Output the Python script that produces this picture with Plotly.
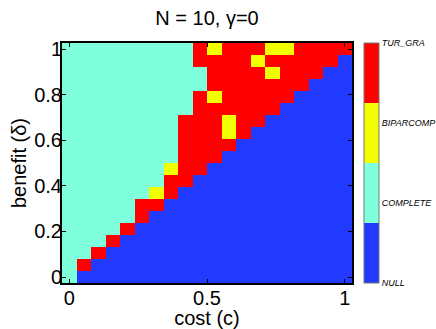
import plotly.graph_objects as go

# ---- data ----
cost = [0.0, 0.0526, 0.1053, 0.1579, 0.2105, 0.2632, 0.3158, 0.3684, 0.4211, 0.4737,
        0.5263, 0.5789, 0.6316, 0.6842, 0.7368, 0.7895, 0.8421, 0.8947, 0.9474, 1.0]
benefit = [0.0, 0.0526, 0.1053, 0.1579, 0.2105, 0.2632, 0.3158, 0.3684, 0.4211, 0.4737,
           0.5263, 0.5789, 0.6316, 0.6842, 0.7368, 0.7895, 0.8421, 0.8947, 0.9474, 1.0]

# regime codes: 1 = NULL, 2 = COMPLETE, 3 = BIPARCOMP, 4 = TUR_GRA
# rows from benefit = 0 (bottom) to benefit = 1 (top)
regime = [
    [2, 1, 1, 1, 1, 1, 1, 1, 1, 1, 1, 1, 1, 1, 1, 1, 1, 1, 1, 1],
    [2, 4, 1, 1, 1, 1, 1, 1, 1, 1, 1, 1, 1, 1, 1, 1, 1, 1, 1, 1],
    [2, 2, 4, 1, 1, 1, 1, 1, 1, 1, 1, 1, 1, 1, 1, 1, 1, 1, 1, 1],
    [2, 2, 2, 4, 1, 1, 1, 1, 1, 1, 1, 1, 1, 1, 1, 1, 1, 1, 1, 1],
    [2, 2, 2, 2, 4, 1, 1, 1, 1, 1, 1, 1, 1, 1, 1, 1, 1, 1, 1, 1],
    [2, 2, 2, 2, 2, 4, 1, 1, 1, 1, 1, 1, 1, 1, 1, 1, 1, 1, 1, 1],
    [2, 2, 2, 2, 2, 4, 4, 1, 1, 1, 1, 1, 1, 1, 1, 1, 1, 1, 1, 1],
    [2, 2, 2, 2, 2, 2, 3, 4, 1, 1, 1, 1, 1, 1, 1, 1, 1, 1, 1, 1],
    [2, 2, 2, 2, 2, 2, 2, 4, 4, 1, 1, 1, 1, 1, 1, 1, 1, 1, 1, 1],
    [2, 2, 2, 2, 2, 2, 2, 3, 4, 4, 1, 1, 1, 1, 1, 1, 1, 1, 1, 1],
    [2, 2, 2, 2, 2, 2, 2, 2, 4, 4, 4, 1, 1, 1, 1, 1, 1, 1, 1, 1],
    [2, 2, 2, 2, 2, 2, 2, 2, 4, 4, 4, 4, 1, 1, 1, 1, 1, 1, 1, 1],
    [2, 2, 2, 2, 2, 2, 2, 2, 4, 4, 4, 3, 4, 1, 1, 1, 1, 1, 1, 1],
    [2, 2, 2, 2, 2, 2, 2, 2, 4, 4, 4, 3, 4, 4, 1, 1, 1, 1, 1, 1],
    [2, 2, 2, 2, 2, 2, 2, 2, 2, 4, 4, 4, 4, 4, 4, 1, 1, 1, 1, 1],
    [2, 2, 2, 2, 2, 2, 2, 2, 2, 4, 3, 4, 4, 4, 4, 4, 1, 1, 1, 1],
    [2, 2, 2, 2, 2, 2, 2, 2, 2, 2, 4, 4, 4, 4, 4, 4, 4, 1, 1, 1],
    [2, 2, 2, 2, 2, 2, 2, 2, 2, 2, 4, 4, 4, 4, 3, 4, 4, 4, 1, 1],
    [2, 2, 2, 2, 2, 2, 2, 2, 2, 4, 4, 4, 4, 3, 4, 4, 4, 4, 4, 1],
    [2, 2, 2, 2, 2, 2, 2, 2, 2, 4, 3, 4, 4, 4, 3, 3, 4, 4, 4, 4],
]

regime_codes = [1, 2, 3, 4]
regime_labels = ["NULL", "COMPLETE", "BIPARCOMP", "TUR_GRA"]
x_ticks = [0, 0.5, 1]
x_tick_labels = ["0", "0.5", "1"]
y_ticks = [0, 0.2, 0.4, 0.6, 0.8, 1]
y_tick_labels = ["0", "0.2", "0.4", "0.6", "0.8", "1"]

# ---- style ----
c_null, c_comp, c_bip, c_tur = "#2239FF", "#80FFDD", "#F2FF00", "#FF0000"
colorscale = [
    [0.0, c_null], [0.25, c_null],
    [0.25, c_comp], [0.5, c_comp],
    [0.5, c_bip], [0.75, c_bip],
    [0.75, c_tur], [1.0, c_tur],
]
FONT = "Liberation Sans, Arial, Helvetica, sans-serif"
FS = 20

fig = go.Figure(
    go.Heatmap(
        x=cost, y=benefit, z=regime,
        zmin=min(regime_codes), zmax=max(regime_codes),
        colorscale=colorscale,
        hoverinfo="skip",
        colorbar=dict(
            x=1.04, xanchor="left", xpad=0,
            y=0.5, yanchor="middle", ypad=0,
            len=1, lenmode="fraction",
            thickness=15, thicknessmode="pixels",
            outlinecolor="#777777", outlinewidth=1,
            tickmode="array", tickvals=regime_codes, ticktext=regime_labels,
            ticks="", ticklabelposition="outside",
            tickfont=dict(family=FONT, size=9, color="black", style="italic"),
        ),
    )
)

dx = cost[1] - cost[0]
dy = benefit[1] - benefit[0]

axis_common = dict(
    showline=True, linecolor="black", linewidth=2, mirror="allticks",
    ticks="inside", ticklen=4, tickwidth=1, tickcolor="black",
    showgrid=False, zeroline=False,
    tickfont=dict(family=FONT, size=FS, color="black"),
)

fig.update_layout(
    width=436, height=329,
    margin=dict(l=62, r=84, t=43, b=46, autoexpand=False),
    paper_bgcolor="white", plot_bgcolor="white",
    font=dict(family=FONT, color="black"),
    title=dict(
        text="N = 10, γ=0", x=0.5, xref="paper", xanchor="center",
        y=1 - 18 / 329, yref="container", yanchor="middle",
        font=dict(family=FONT, size=FS, color="black"),
    ),
    xaxis=dict(
        range=[cost[0] - dx / 2, cost[-1] + dx / 2],
        tickmode="array", tickvals=x_ticks, ticktext=x_tick_labels,
        ticklabelstandoff=-4,
        title=dict(text="cost (c)", standoff=5, font=dict(family=FONT, size=FS, color="black")),
        automargin=False,
        **axis_common,
    ),
    yaxis=dict(
        range=[benefit[0] - dy / 2, benefit[-1] + dy / 2],
        tickmode="array", tickvals=y_ticks, ticktext=y_tick_labels,
        ticklabelstandoff=-6,
        title=dict(text="benefit (δ)", standoff=2, font=dict(family=FONT, size=FS, color="black")),
        automargin=False,
        **axis_common,
    ),
)

fig.write_html(
    "out.html",
    config={"displayModeBar": False},
    post_script="document.body.style.margin='0';",
)
